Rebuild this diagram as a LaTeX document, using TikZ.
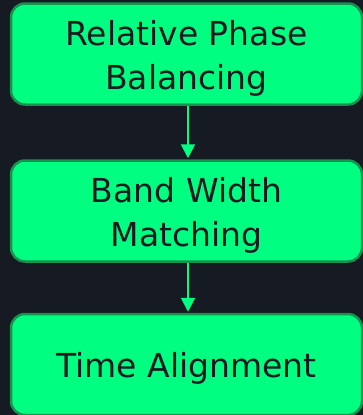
\documentclass[tikz,border=0pt]{standalone}
\usepackage{fontspec}
\setmainfont{DejaVu Sans}
\usetikzlibrary{arrows.meta}
\definecolor{bg}{HTML}{161A22}
\definecolor{boxfill}{HTML}{00FF80}
\definecolor{boxline}{HTML}{17934F}
\definecolor{txt}{HTML}{161A22}
\newcommand\mytopstrut{\rule{0pt}{33pt}}
\begin{document}
\begin{tikzpicture}[x=1pt,y=-1pt,
  stepbox/.style={draw=boxline, line width=2.5pt, fill=boxfill, rounded corners=14pt,
    minimum width=351pt, minimum height=101pt, inner sep=0pt, align=center,
    text=txt, font=\fontsize{33}{44}\selectfont},
  link/.style={draw=boxfill, line width=2pt, -{Triangle[length=14pt,width=14pt]}, shorten >=1pt}]
\fill[bg] (0,0) rectangle (363,415);
\useasboundingbox (0,0) rectangle (363,415);
\node[stepbox] (a) at (186.5,54) {\mytopstrut Relative Phase\\Balancing};
\node[stepbox] (b) at (186.5,211) {\mytopstrut Band Width\\Matching};
\node[stepbox] (c) at (186.5,364.5) {\mytopstrut Time Alignment};
\draw[link] (a.south -| 188,0) -- (b.north -| 188,0);
\draw[link] (b.south -| 188,0) -- (c.north -| 188,0);
\end{tikzpicture}
\end{document}
